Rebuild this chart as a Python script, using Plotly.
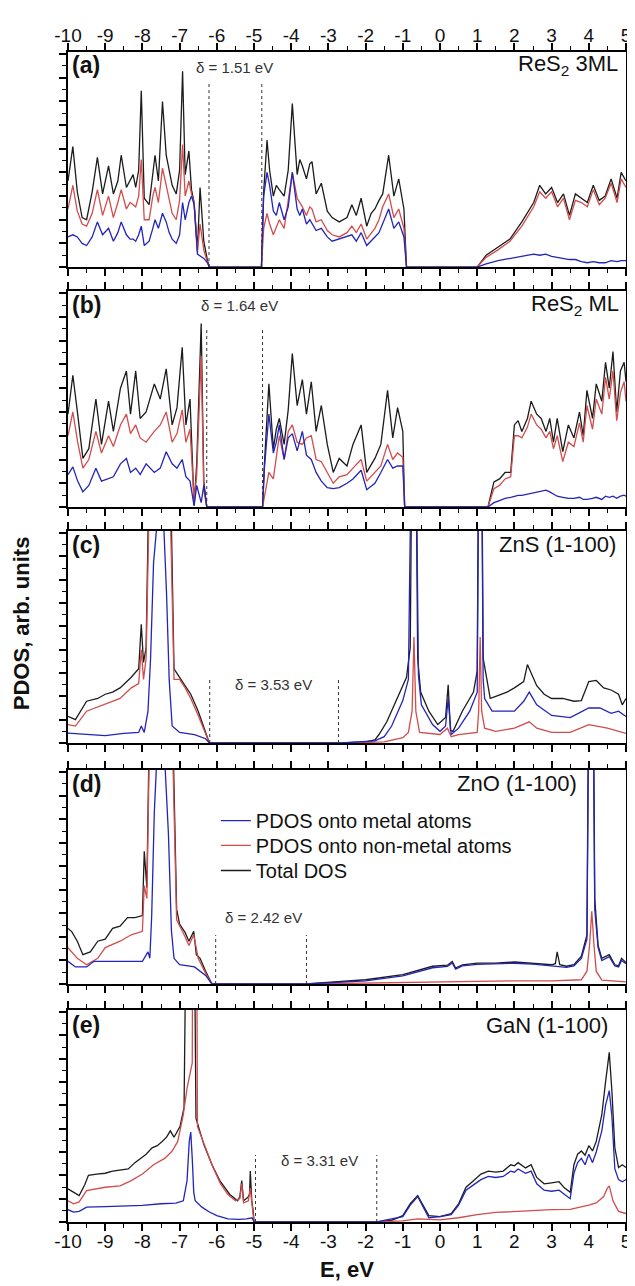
import plotly.graph_objects as go

# ---------------- data ----------------
X_TICKS = list(range(-10, 6))
X_TICK_LABELS = ["-10", "-9", "-8", "-7", "-6", "-5", "-4", "-3", "-2", "-1",
                 "0", "1", "2", "3", "4", "5"]

# (a) ReS2 3ML
A_E = [-10.0, -9.87, -9.75, -9.62, -9.5, -9.35, -9.21, -9.07, -8.91, -8.78,
       -8.66, -8.57, -8.43, -8.33, -8.25, -8.18, -8.1, -8.03, -7.95, -7.82,
       -7.72, -7.66, -7.57, -7.46, -7.36, -7.28, -7.2, -7.09, -7.0, -6.92,
       -6.85, -6.75, -6.68, -6.61, -6.52, -6.45, -6.35, -6.25, -6.2,
       -4.8, -4.74, -4.65, -4.58, -4.48, -4.4, -4.32, -4.19, -4.08, -3.97,
       -3.84, -3.77, -3.7, -3.59, -3.5, -3.44, -3.33, -3.19, -3.03, -2.9,
       -2.71, -2.5, -2.37, -2.25, -2.12, -1.97, -1.85, -1.75, -1.64, -1.54,
       -1.38, -1.24, -1.11, -0.97, -0.9,
       1.0, 1.24, 1.56, 1.88, 2.2, 2.52, 2.68, 2.84, 3.0, 3.16,
       3.32, 3.48, 3.64, 3.8, 3.96, 4.12, 4.28, 4.44, 4.6, 4.76,
       4.87, 5.0]
A_TOTAL = [40, 56, 35, 23, 22, 35, 51, 34, 47, 34,
           40, 52, 37, 40, 43, 37, 45, 82, 32, 29,
           42, 52, 40, 77, 52, 45, 38, 34, 45, 91,
           43, 54, 36, 30, 8, 37, 12, 3, 0,
           0, 35, 59, 45, 33, 38, 36, 33, 45, 76,
           43, 50, 47, 41, 48, 49, 34, 39, 26, 23,
           21, 23, 29, 24, 32, 19, 25, 27, 31, 34,
           52, 33, 41, 27, 0,
           0, 5.5, 9.4, 13, 21, 30, 38, 34, 37, 30,
           34, 24, 34, 32, 30, 38, 31, 33, 41, 32,
           44, 40]
A_NONMETAL = [27, 38, 26, 20, 19, 25, 36, 24, 33, 23,
              30, 36, 27, 30, 29, 28, 33, 50, 22, 22,
              33, 37, 30, 46, 38, 32, 25, 22, 31, 57,
              33, 40, 34, 30, 7, 20, 8, 2, 0,
              0, 18, 25, 20, 15, 19, 22, 18, 30, 44,
              32, 30, 28, 24, 28, 27, 21, 22, 17, 15,
              14, 16, 19, 16, 20, 13, 16, 18, 22, 28,
              34, 23, 27, 18, 0,
              0, 4.5, 8, 12, 19, 28, 35, 32, 35, 28,
              32, 22, 31, 30, 28, 36, 29, 32, 39, 30,
              41, 37]
A_METAL = [14, 15, 14, 11, 10, 14, 21, 15, 18, 12,
           16, 21, 15, 13, 13, 12, 15, 19, 10, 12,
           18, 22, 18, 25, 21, 16, 13, 11, 15, 30,
           22, 30, 33, 29, 6, 5, 4, 2, 0,
           0, 33, 44, 38, 26, 24, 30, 22, 28, 44,
           27, 24, 27, 20, 22, 20, 17, 18, 14, 12,
           13, 14, 15, 12, 16, 10, 12, 14, 16, 20,
           27, 18, 21, 14, 0,
           0, 1.5, 3, 4, 5, 6, 5.5, 6, 5, 4.5,
           4, 3.5, 3.5, 2.5, 2, 2.5, 2, 2, 3, 2.5,
           3, 3]

# (b) ReS2 ML
B_E = [-10.0, -9.87, -9.74, -9.6, -9.44, -9.25, -9.1, -8.91, -8.78, -8.59,
       -8.43, -8.32, -8.18, -8.06, -7.9, -7.68, -7.52, -7.36, -7.2, -7.07,
       -6.93, -6.83, -6.72, -6.61, -6.54, -6.42, -6.35, -6.27,
       -4.77, -4.72, -4.6, -4.48, -4.4, -4.32, -4.19, -4.08, -3.97, -3.84,
       -3.7, -3.59, -3.46, -3.33, -3.19, -3.03, -2.87, -2.71, -2.5, -2.34,
       -2.12, -1.97, -1.75, -1.59, -1.41, -1.27, -1.14, -1.0, -0.95,
       1.29, 1.45, 1.6, 1.75, 1.9, 2.0, 2.1, 2.2, 2.35, 2.45,
       2.6, 2.72, 2.85, 2.95, 3.05, 3.15, 3.3, 3.45, 3.6, 3.75,
       3.85, 3.95, 4.1, 4.2, 4.35, 4.45, 4.55, 4.65, 4.75, 4.85,
       4.95, 5.0]
B_TOTAL = [43, 61, 43, 22.5, 27, 50, 29, 49, 35, 55,
           63, 43, 63, 41, 44, 57, 50, 64, 38, 46,
           74, 38, 50, 1, 20, 85, 12, 0,
           0, 20, 57, 27, 36, 41, 29, 45, 71, 47,
           59, 43, 58, 35, 47, 29, 16, 22.5, 19, 29,
           38, 16, 22.5, 29, 54, 32, 46, 35, 0,
           0, 11.6, 13, 16, 16, 38, 40, 35, 41, 49,
           43, 41, 35, 41, 30, 41, 25.6, 38, 32, 44,
           33, 54, 41, 57, 49, 67, 55, 72, 44, 63,
           67, 58]
B_NONMETAL = [33, 44, 30, 18, 22, 35, 25, 33, 28, 38,
              43, 34, 38, 32, 30, 35, 38, 44, 30, 34,
              45, 30, 36, 3, 15, 70, 8, 0,
              0, 5, 16, 13, 22, 33, 22, 35, 38, 30,
              29, 32, 33, 22, 21, 16, 11, 14, 15, 18,
              22, 12, 16, 19, 29, 22, 25, 23, 0,
              0, 8.5, 10, 13, 14, 33, 33, 32, 37, 43,
              38, 36, 32, 35, 27, 33, 21, 30, 28, 39,
              30, 47, 36, 50, 43, 60, 50, 63, 40, 53,
              58, 49]
B_METAL = [15, 18.6, 12, 7, 10, 18, 12, 13, 14, 20,
           22.5, 16, 18, 15, 20, 16, 18, 25.6, 20, 18,
           22, 14, 12, 0.5, 10, 2, 10, 0,
           0, 18, 43, 25, 30, 38, 22, 32, 34, 26,
           35, 24, 22, 16, 12, 9, 8.5, 9, 11, 13,
           17, 8, 11, 16, 22, 18, 19, 19, 0,
           0, 2, 3, 4, 4.5, 5, 5.4, 5.4, 6, 6.5,
           7, 7.5, 7.8, 7, 6, 5, 4.5, 4, 4, 4.5,
           3.5, 3.5, 4, 4.5, 3.5, 5, 4.5, 5, 4, 5,
           5.5, 5]

# (c) ZnS (1-100)
C_TOTAL_E = [-10.0, -9.8, -9.5, -9.2, -9.0, -8.8, -8.6, -8.3, -8.1, -8.03,
             -7.97, -7.9, -7.55, -7.15, -7.0, -6.85, -6.7, -6.5, -6.3, -6.2,
             -2.66, -2.0, -1.75, -1.64, -1.43, -1.16, -0.9, -0.8, -0.7, -0.6,
             -0.52, -0.3, -0.06, 0.15, 0.22, 0.28, 0.35, 0.6, 0.9, 1.0,
             1.08, 1.16, 1.35, 1.5, 1.8, 2.0, 2.25, 2.35, 2.45, 2.6,
             2.8, 3.0, 3.3, 3.6, 3.8, 4.0, 4.2, 4.4, 4.6, 4.8,
             4.9, 5.0]
C_TOTAL = [12.6, 11, 19.7, 21, 23, 24, 26, 31, 35, 56,
           38, 45, 420, 35, 31, 27, 23, 15, 5.5, 0,
           0, 0.5, 1.5, 4, 10, 21, 31, 45, 260, 40,
           24, 15, 8.7, 12, 27.5, 6, 5.5, 15, 24, 34,
           260, 40, 21, 22, 24, 26, 29, 37, 33, 27,
           23, 21, 21, 19.7, 20, 29, 29.5, 26, 25, 23,
           18, 21]
C_NONMETAL_E = [-10.0, -9.8, -9.5, -9.2, -9.0, -8.6, -8.3, -8.1, -8.03, -7.97,
                -7.9, -7.55, -7.15, -7.0, -6.85, -6.7, -6.5, -6.3, -6.2,
                -2.66, -1.5, -1.0, -0.85, -0.75, -0.7, -0.65, -0.55, 0.0, 0.2,
                0.3, 0.5, 1.0, 1.04, 1.08, 1.12, 1.2, 1.5, 2.0, 2.4,
                2.6, 3.0, 3.5, 4.0, 4.5, 5.0]
C_NONMETAL = [8.7, 8, 15, 17, 18, 21, 26, 28, 44, 30,
              40, 350, 30, 30, 26, 21, 13, 4, 0,
              0, 0.5, 2.5, 5, 15, 50, 15, 5, 4, 7,
              3, 4, 5, 15, 50, 15, 7, 5.5, 7, 10,
              7, 5, 5, 8.7, 7, 4.5]
C_METAL_E = [-10.0, -9.5, -9.0, -8.5, -8.1, -8.03, -7.95, -7.85, -7.78, -7.7,
             -7.6, -7.5, -7.42, -7.35, -7.28, -7.2, -7.0, -6.6, -6.3, -6.2,
             -2.66, -1.75, -1.5, -1.3, -1.0, -0.85, -0.7, -0.58, -0.5, -0.2,
             0.0, 0.15, 0.22, 0.3, 0.5, 0.8, 1.0, 1.08, 1.16, 1.2,
             1.4, 1.8, 2.0, 2.25, 2.4, 2.6, 3.0, 3.5, 4.0, 4.3,
             4.6, 4.8, 5.0]
C_METAL = [4.7, 4, 3.5, 4.5, 5, 8, 5, 15, 40, 85,
           105, 108, 100, 70, 30, 8, 5, 4, 2, 0,
           0, 1, 3, 8, 20, 30, 240, 32, 18, 8.7,
           5.5, 8, 21, 4, 7, 15, 24, 240, 30, 21,
           15, 15, 15, 19.7, 24, 18, 13, 12, 16.5, 16.5,
           14, 15, 12.5]

# (d) ZnO (1-100)
D_TOTAL_E = [-10.0, -9.9, -9.75, -9.6, -9.4, -9.2, -9.0, -8.8, -8.6, -8.4,
             -8.2, -8.0, -7.95, -7.88, -7.55, -7.08, -7.0, -6.85, -6.75, -6.62,
             -6.55, -6.45, -6.3, -6.13,
             -3.6, -3.0, -2.0, -1.0, -0.5, -0.2, 0.2, 0.33, 0.42, 0.6,
             1.0, 1.5, 2.0, 2.5, 3.0, 3.1, 3.15, 3.22, 3.4, 3.6,
             3.8, 3.95, 4.06, 4.16, 4.25, 4.35, 4.55, 4.7, 4.8, 4.88,
             5.0]
D_TOTAL = [26, 24.5, 20, 13.7, 15, 20, 21, 26, 27, 31,
           31, 32, 62, 45, 420, 35, 28, 24, 20, 24.6,
           13.7, 12, 6, 0,
           0, 0.8, 2, 4.4, 6.7, 8.3, 8.8, 10.5, 7.5, 9,
           9.8, 9.8, 10.3, 9.8, 9, 9.5, 15, 9, 8.3, 9,
           13, 23, 300, 40, 18, 12, 13.7, 9, 8.5, 12,
           10]
D_NONMETAL_E = [-10.0, -9.75, -9.5, -9.2, -9.0, -8.6, -8.3, -8.0, -7.95, -7.88,
                -7.55, -7.08, -6.85, -6.75, -6.62, -6.5, -6.3, -6.13,
                -3.6, -1.0, 0.0, 1.0, 2.0, 3.0, 3.8, 3.95, 4.02, 4.08,
                4.14, 4.2, 4.35, 5.0]
D_NONMETAL = [17, 12, 9, 12, 17, 20, 23, 24.6, 46, 40,
              380, 30, 22, 18, 23, 12, 5, 0,
              0, 0.5, 1, 1.2, 1.5, 1.5, 2, 6, 18, 34,
              18, 6, 1.8, 1]
D_METAL_E = [-10.0, -9.8, -9.5, -9.3, -8.5, -8.0, -7.85, -7.8, -7.75, -7.68,
             -7.6, -7.5, -7.4, -7.3, -7.22, -7.15, -7.0, -6.6, -6.3, -6.13,
             -3.6, -3.0, -2.0, -1.0, -0.5, -0.2, 0.2, 0.33, 0.42, 0.6,
             1.0, 1.5, 2.0, 2.5, 3.0, 3.4, 3.6, 3.8, 3.95, 4.06,
             4.16, 4.25, 4.35, 4.55, 4.7, 4.8, 4.88, 5.0]
D_METAL = [10.6, 8, 8, 10.6, 10.6, 10.6, 15, 12, 32, 80,
           110, 115, 105, 70, 25, 12, 9, 8, 4, 0,
           0, 0.5, 1.5, 3.8, 6, 7.6, 8.2, 9.8, 7, 8.5,
           9.2, 9.3, 9.7, 9.3, 8.5, 7.8, 8.5, 12, 21, 270,
           35, 17, 11, 12.8, 8.5, 8, 11, 9.5]

# (e) GaN (1-100)
E_TOTAL_E = [-10.0, -9.85, -9.7, -9.55, -9.45, -9.23, -9.0, -8.8, -8.6, -8.38,
             -8.2, -8.06, -7.9, -7.74, -7.6, -7.47, -7.35, -7.25, -7.15, -6.99,
             -6.88, -6.7, -6.56, -6.35, -6.13, -5.92, -5.65, -5.44, -5.38, -5.33,
             -5.28, -5.17, -5.12, -5.1, -5.06, -5.02, -5.0,
             -1.7, -1.3, -1.0, -0.8, -0.6, -0.45, -0.3, 0.0, 0.3, 0.5,
             0.7, 0.9, 1.1, 1.3, 1.5, 1.7, 1.9, 2.0, 2.1, 2.3,
             2.45, 2.6, 2.8, 3.0, 3.2, 3.35, 3.5, 3.6, 3.7, 3.8,
             3.9, 4.0, 4.1, 4.2, 4.35, 4.45, 4.55, 4.62, 4.7, 4.8,
             4.9, 5.0]
E_TOTAL = [15.6, 14, 12.5, 17.6, 22, 22.6, 23, 24, 24.5, 25,
           28, 30, 32, 35, 36, 38, 40, 43, 40, 45,
           54, 350, 49, 36.6, 27, 19.5, 13, 10, 12, 19.5,
           10, 11.5, 13, 24, 10, 5, 0,
           0, 0.8, 3, 8.6, 12.5, 8, 3, 2.5, 3.9, 8.6,
           16.4, 19.5, 22.6, 24, 23.5, 24, 27, 26.5, 28, 25.5,
           27, 21, 18, 18.5, 19, 16, 14, 27, 32, 33.5,
           31.5, 36, 33.5, 38, 50.6, 66, 80, 62, 35, 25.7,
           27, 25.7]
E_NONMETAL_E = [-10.0, -9.85, -9.7, -9.5, -9.0, -8.6, -8.3, -8.0, -7.7, -7.4,
                -7.2, -7.05, -6.9, -6.8, -6.66, -6.6, -6.52, -6.3, -6.1, -5.9,
                -5.7, -5.5, -5.38, -5.33, -5.28, -5.15, -5.1, -5.05, -5.0,
                -1.7, -1.0, -0.6, 0.0, 0.5, 1.0, 1.5, 2.0, 2.5, 3.0,
                3.5, 3.8, 4.0, 4.2, 4.4, 4.5, 4.55, 4.65, 4.8, 5.0]
E_NONMETAL = [10, 8.6, 9.5, 14.8, 16.4, 17, 19.5, 22.6, 27, 30,
              33.5, 38, 50.6, 63, 75, 400, 45, 35, 25.7, 18,
              13, 10, 11, 18, 9, 10, 16, 8, 0,
              0, 0.5, 1.5, 1, 2, 3.5, 4.5, 5, 5.5, 5.8,
              6, 7, 8, 9, 12, 16, 17, 10, 5, 4]
E_METAL_E = [-10.0, -9.85, -9.7, -9.5, -9.0, -8.0, -7.5, -7.1, -6.9, -6.8,
             -6.74, -6.7, -6.66, -6.62, -6.58, -6.4, -6.2, -6.0, -5.7, -5.4,
             -5.2, -5.05, -5.0,
             -1.7, -1.0, -0.8, -0.6, -0.45, -0.3, 0.0, 0.3, 0.5, 0.7,
             0.9, 1.1, 1.3, 1.5, 1.7, 1.9, 2.0, 2.1, 2.3, 2.45,
             2.6, 2.8, 3.0, 3.2, 3.35, 3.5, 3.6, 3.7, 3.8, 3.9,
             4.0, 4.1, 4.2, 4.35, 4.45, 4.55, 4.62, 4.7, 4.8, 4.9,
             5.0]
E_METAL = [5.8, 4.7, 5, 7, 7.3, 7.8, 8.6, 8.9, 10, 19.5,
           38, 42.4, 30, 14, 10, 7, 4.7, 3, 1.5, 1.2,
           1.5, 2, 0,
           0, 2.5, 8, 12, 7, 2, 2.5, 3.5, 8, 15,
           17.5, 20, 21.5, 21, 21.5, 24, 23.5, 25, 23, 24,
           18, 15, 14.5, 15, 13, 11, 23, 28, 30, 27,
           32, 28, 33, 43, 55, 62, 50, 25, 20, 19,
           20]

PANEL_LABELS = ["(a)", "(b)", "(c)", "(d)", "(e)"]
MATERIALS = ["ReS<sub>2</sub> 3ML", "ReS<sub>2</sub> ML", "ZnS (1-100)", "ZnO (1-100)", "GaN (1-100)"]
GAP_LO = [-6.21, -6.27, -6.19, -6.03, -4.96]
GAP_HI = [-4.79, -4.77, -2.73, -3.59, -1.70]
GAP_TEXT = ["δ = 1.51 eV", "δ = 1.64 eV", "δ = 3.53 eV", "δ = 2.42 eV", "δ = 3.31 eV"]

SERIES_KEYS = ["total", "nonmetal", "metal"]
SERIES_NAMES = {"metal": "PDOS onto metal atoms",
                "nonmetal": "PDOS onto non-metal atoms",
                "total": "Total DOS"}

PANELS = [
    {"total": (A_E, A_TOTAL), "nonmetal": (A_E, A_NONMETAL), "metal": (A_E, A_METAL)},
    {"total": (B_E, B_TOTAL), "nonmetal": (B_E, B_NONMETAL), "metal": (B_E, B_METAL)},
    {"total": (C_TOTAL_E, C_TOTAL), "nonmetal": (C_NONMETAL_E, C_NONMETAL), "metal": (C_METAL_E, C_METAL)},
    {"total": (D_TOTAL_E, D_TOTAL), "nonmetal": (D_NONMETAL_E, D_NONMETAL), "metal": (D_METAL_E, D_METAL)},
    {"total": (E_TOTAL_E, E_TOTAL), "nonmetal": (E_NONMETAL_E, E_NONMETAL), "metal": (E_METAL_E, E_METAL)},
]

# ---------------- styles / layout positions ----------------
COLORS = {"metal": "#2424b8", "nonmetal": "#d24c4c", "total": "#1c1c1c"}
LEGEND_IDS = {"metal": "legend", "nonmetal": "legend2", "total": "legend3"}
LEGEND_Y = {"legend": 0.3598, "legend2": 0.3385, "legend3": 0.3171}
DOMAINS = [(0.8162, 1.0), (0.6111, 0.7957), (0.4094, 0.5906), (0.2034, 0.3863), (0.0, 0.1812)]
NAME_X = [0.989, 0.991, 0.986, 0.915, 0.972]
NAME_Y = [0.94, 0.935, 0.934, 0.935, 0.928]
DELTA_X = [-5.53, -5.38, -4.48, -4.74, -3.25]
DELTA_Y = [0.93, 0.935, 0.278, 0.313, 0.292]
GAP_LINE_TOP = [0.856, 0.83, 0.307, 0.229, 0.316]
FONT = "Liberation Sans, Arial, sans-serif"

fig = go.Figure()
for i, p in enumerate(PANELS):
    sfx = "" if i == 0 else str(i + 1)
    for key in SERIES_KEYS:
        xs, ys = p[key]
        fig.add_trace(go.Scatter(
            x=xs, y=ys, mode="lines",
            line=dict(color=COLORS[key], width=1.3),
            name=SERIES_NAMES[key], legend=LEGEND_IDS[key],
            showlegend=(i == 3), hoverinfo="skip",
            xaxis="x" + sfx, yaxis="y" + sfx))

layout_axes = {}
for i in range(5):
    sfx = "" if i == 0 else str(i + 1)
    layout_axes["xaxis" + sfx] = dict(
        domain=[0, 1], anchor="y" + sfx, range=[-10, 5],
        tickmode="array", tickvals=X_TICKS, ticktext=X_TICK_LABELS,
        showticklabels=(i in (0, 4)), side="top" if i == 0 else "bottom",
        ticks="outside", ticklen=7, tickwidth=1.5, tickcolor="black",
        ticklabelstandoff=-6,
        showline=True, linecolor="black", linewidth=1.5, mirror="ticks",
        showgrid=False, zeroline=False,
        minor=dict(tickmode="linear", tick0=-10, dtick=0.5, ticks="outside",
                   ticklen=4, tickwidth=1.2, tickcolor="black", showgrid=False),
        tickfont=dict(family=FONT, size=19, color="#111"))
    layout_axes["yaxis" + sfx] = dict(
        domain=list(DOMAINS[i]), anchor="x" + sfx, range=[0, 100],
        tickmode="linear", tick0=0, dtick=11, showticklabels=False,
        ticks="outside", ticklen=7, tickwidth=1.5, tickcolor="black",
        showline=True, linecolor="black", linewidth=1.5, mirror="ticks",
        showgrid=False, zeroline=False,
        minor=dict(tickmode="linear", tick0=0, dtick=5.5, ticks="outside",
                   ticklen=4, tickwidth=1.2, tickcolor="black", showgrid=False))

annotations = []
shapes = []
for i in range(5):
    sfx = "" if i == 0 else str(i + 1)
    annotations.append(dict(
        text="<b>" + PANEL_LABELS[i] + "</b>", xref="x" + sfx + " domain", yref="y" + sfx + " domain",
        x=0.004, y=NAME_Y[i], xanchor="left", yanchor="middle", showarrow=False,
        font=dict(family=FONT, size=23, color="#111")))
    annotations.append(dict(
        text=MATERIALS[i], xref="x" + sfx + " domain", yref="y" + sfx + " domain",
        x=NAME_X[i], y=NAME_Y[i], xanchor="right", yanchor="middle", showarrow=False,
        font=dict(family=FONT, size=22, color="#111")))
    annotations.append(dict(
        text=GAP_TEXT[i], xref="x" + sfx, yref="y" + sfx + " domain",
        x=DELTA_X[i], y=DELTA_Y[i], xanchor="center", yanchor="middle", showarrow=False,
        font=dict(family=FONT, size=15, color="#333")))
    for gx in (GAP_LO[i], GAP_HI[i]):
        shapes.append(dict(
            type="line", xref="x" + sfx, yref="y" + sfx + " domain",
            x0=gx, x1=gx, y0=0, y1=GAP_LINE_TOP[i],
            line=dict(color="#333", width=1, dash="dot")))

annotations.append(dict(
    text="<b>PDOS, arb. units</b>", xref="paper", yref="paper",
    x=-0.082, y=0.512, xanchor="center", yanchor="middle", textangle=-90,
    showarrow=False, font=dict(family=FONT, size=22, color="#111")))
annotations.append(dict(
    text="<b>E, eV</b>", xref="paper", yref="paper",
    x=0.5, y=-0.041, xanchor="center", yanchor="middle",
    showarrow=False, font=dict(family=FONT, size=22, color="#111")))

legend_style = dict(x=0.265, xanchor="left", yanchor="top",
                    bgcolor="rgba(0,0,0,0)", borderwidth=0,
                    font=dict(family=FONT, size=20, color="#111"))

fig.update_layout(
    width=635, height=1286,
    margin=dict(l=60, r=8, t=44, b=72),
    paper_bgcolor="white", plot_bgcolor="white",
    font=dict(family=FONT, color="#111"),
    showlegend=True,
    legend=dict(y=LEGEND_Y["legend"], **legend_style),
    legend2=dict(y=LEGEND_Y["legend2"], **legend_style),
    legend3=dict(y=LEGEND_Y["legend3"], **legend_style),
    annotations=annotations, shapes=shapes,
    **layout_axes)

fig.write_html("out.html")
